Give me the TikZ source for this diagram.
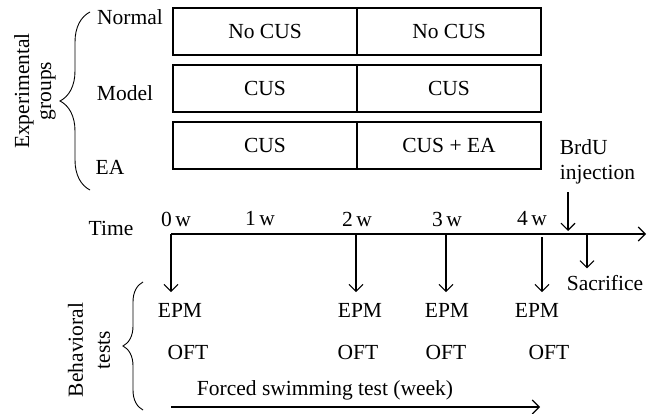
\documentclass[tikz,border=0pt]{standalone}
\usepackage{fontspec}
\setmainfont{Liberation Serif}
\usetikzlibrary{arrows.meta}
\usetikzlibrary{decorations.pathreplacing}
\usetikzlibrary{positioning}

\begin{document}
\begin{tikzpicture}[x=1pt, y=-1pt, line width=1.1pt, font=\fontsize{21.5}{22}\selectfont,
        >={Straight Barb[length=7pt, width=14pt]},
        cell/.style={draw, minimum width=184pt, minimum height=47pt, inner sep=0pt, outer sep=0pt},
        brace/.style={decorate, decoration={brace, amplitude=#1}, line width=0.9pt},
        tick/.style={->, shorten >=7pt}]
        \useasboundingbox (0,0) rectangle (652,414);

        \node[cell] (n1) at (265,31.5) {No CUS};
        \node[cell] (n2) [right=0pt of n1] {No CUS};
        \node[cell] (m1) [below=10pt of n1] {CUS};
        \node[cell] (m2) [right=0pt of m1] {CUS};
        \node[cell] (e1) [below=10pt of m1] {CUS};
        \node[cell] (e2) [right=0pt of e1] {CUS + EA};

        \node (normal) at (130,17) {Normal};
        \node (model) at (125,93) {Model};
        \node (ea) at (110,167) {EA};
        \node[rotate=90, align=center] (groups) at (35,91) {Experimental\\groups};
        \draw[brace=30pt] (90,190) -- (90,12);

        \node[align=left, anchor=north west] (brdu) at (556,136) {BrdU\\[3pt]injection};
        \coordinate (inj) at (568,231);
        \draw[->, shorten <=4pt] (brdu.south -| inj) -- (inj);

        \node (time) at (111,228) {Time};
        \coordinate (t0) at (171,234);
        \coordinate (t2) at (356,234);
        \coordinate (t3) at (446,234);
        \coordinate (t4) at (542,234);
        \coordinate (ts) at (587,234);
        \coordinate (tend) at (646,234);
        \draw[->] (t0) -- (tend);
        \node (w0) at (176,219) {0\,w};
        \node (w1) at (260,219) {1\,w};
        \node (w2) at (357,219) {2\,w};
        \node (w3) at (447,219) {3\,w};
        \node (w4) at (532,219) {4\,w};

        \node (epm0) at (180,310) {EPM};
        \node (epm2) at (360,310) {EPM};
        \node (epm3) at (447,310) {EPM};
        \node (epm4) at (537,310) {EPM};
        \node (oft0) at (188,352) {OFT};
        \node (oft2) at (358,352) {OFT};
        \node (oft3) at (446,352) {OFT};
        \node (oft4) at (549,352) {OFT};
        \node (sac) at (605,283) {Sacrifice};

        \draw[tick] (t0) -- (epm0.north -| t0);
        \draw[tick] (t2) -- (epm2.north -| t2);
        \draw[tick] (t3) -- (epm3.north -| t3);
        \draw[tick, shorten <=3pt] (t4) -- (epm4.north -| t4);
        \draw[->, shorten >=3pt] (ts) -- (sac.north -| ts);

        \node (fst) at (325,390) {Forced swimming test (week)};
        \coordinate (f0) at (171,407);
        \coordinate (f1) at (540,407);
        \draw[->] (f0) -- (f1);

        \node[rotate=90, align=center] (behav) at (89,350) {Behavioral\\[5pt]tests};
        \draw[brace=20pt] (143,410) -- (143,282);
    \end{tikzpicture}
\end{document}
